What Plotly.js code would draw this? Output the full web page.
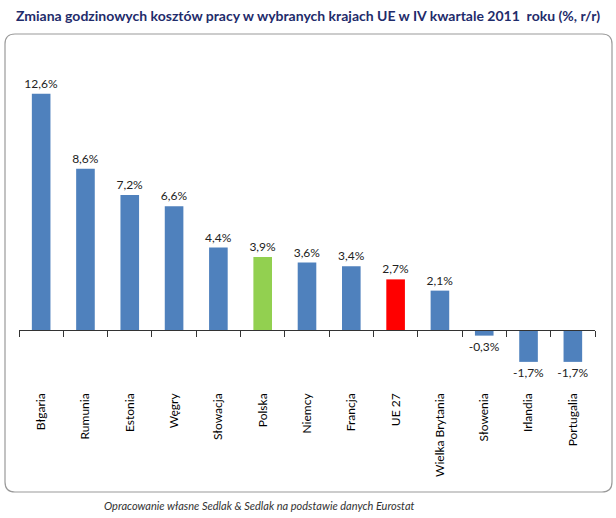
<!DOCTYPE html>
<html>
<head>
<meta charset="utf-8">
<script src="https://cdn.plot.ly/plotly-3.0.1.min.js"></script>
<style>html,body{margin:0;padding:0;background:#fff;}#chart{width:616px;height:518px;}</style>
</head>
<body>
<div id="chart"></div>
<script>
const categories = ["Błgaria","Rumunia","Estonia","Węgry","Słowacja","Polska","Niemcy","Francja","UE 27","Wielka Brytania","Słowenia","Irlandia","Portugalia"];
const values = [12.6, 8.6, 7.2, 6.6, 4.4, 3.9, 3.6, 3.4, 2.7, 2.1, -0.3, -1.7, -1.7];
const barColors = ["#4F81BD","#4F81BD","#4F81BD","#4F81BD","#4F81BD","#92D050","#4F81BD","#4F81BD","#FF0000","#4F81BD","#4F81BD","#4F81BD","#4F81BD"];
const titleText = "Zmiana godzinowych kosztów pracy w wybranych krajach UE w IV kwartale 2011  roku (%, r/r)";
const footerText = "Opracowanie własne Sedlak &amp; Sedlak na podstawie danych Eurostat";

const W = 616, H = 518;
const m = {l: 19, r: 21, t: 60, b: 128};
const pw = W - m.l - m.r, ph = H - m.t - m.b;
const yRange = [-3.2, 14.4];
const zeroPos = -yRange[0] / (yRange[1] - yRange[0]);
const px2x = p => (p - m.l) / pw;
const px2y = p => (H - m.b - p) / ph;

// rounded frame
const bx0 = px2x(5), bx1 = px2x(612), by0 = px2y(492), by1 = px2y(34);
const rx = 10 / pw, ry = 10 / ph;
const framePath = `M ${bx0+rx},${by1} L ${bx1-rx},${by1} Q ${bx1},${by1} ${bx1},${by1-ry} L ${bx1},${by0+ry} Q ${bx1},${by0} ${bx1-rx},${by0} L ${bx0+rx},${by0} Q ${bx0},${by0} ${bx0},${by0+ry} L ${bx0},${by1-ry} Q ${bx0},${by1} ${bx0+rx},${by1} Z`;

const data = [
  {
    type: 'bar', x: categories, y: values,
    marker: {color: barColors},
    texttemplate: '%{y:.1f}%', textposition: 'outside', constraintext: 'none',
    textfont: {family: 'Lato, sans-serif', size: 12, color: '#222'},
    cliponaxis: false, hoverinfo: 'skip'
  },
  {
    type: 'scatter', x: categories, y: values, xaxis: 'x2', mode: 'none',
    hoverinfo: 'skip', showlegend: false
  }
];

const layout = {
  width: W, height: H,
  margin: m,
  separators: ', ',
  showlegend: false,
  paper_bgcolor: '#fff', plot_bgcolor: 'rgba(0,0,0,0)',
  bargap: 0.58,
  font: {family: 'Lato, sans-serif', color: '#000'},
  title: {
    text: '<b>' + titleText + '</b>',
    font: {family: 'Lato, sans-serif', size: 14, color: '#1F2C6B'},
    x: 0.5, xref: 'container', xanchor: 'center',
    y: 1 - 16 / H, yref: 'container', yanchor: 'middle'
  },
  xaxis: {
    type: 'category', categoryorder: 'array', categoryarray: categories,
    range: [-0.5, 12.5],
    showline: false, ticks: '', showgrid: false, zeroline: false,
    tickangle: -90, tickfont: {family: 'Lato, sans-serif', size: 12, color: '#000'},
    fixedrange: true
  },
  xaxis2: {
    type: 'category', categoryorder: 'array', categoryarray: categories,
    range: [-0.5, 12.5],
    overlaying: 'x', anchor: 'free', position: zeroPos,
    showline: true, linecolor: '#333', linewidth: 1,
    ticks: 'outside', tickson: 'boundaries', ticklen: 6, tickcolor: '#333',
    showticklabels: false, showgrid: false, zeroline: false
  },
  yaxis: {
    range: yRange, visible: false, showgrid: false, zeroline: false, fixedrange: true
  },
  shapes: [
    {type: 'path', xref: 'paper', yref: 'paper', path: framePath,
     line: {color: '#9A9A9A', width: 1.2}, fillcolor: 'rgba(0,0,0,0)', layer: 'below'}
  ],
  annotations: [
    {text: '<i>' + footerText + '</i>', xref: 'paper', yref: 'paper',
     x: px2x(259), y: px2y(505), xanchor: 'center', yanchor: 'middle', showarrow: false,
     font: {family: 'Lato, sans-serif', size: 11, color: '#333'}}
  ]
};

Plotly.newPlot('chart', data, layout, {displayModeBar: false, staticPlot: true});
</script>
</body>
</html>
